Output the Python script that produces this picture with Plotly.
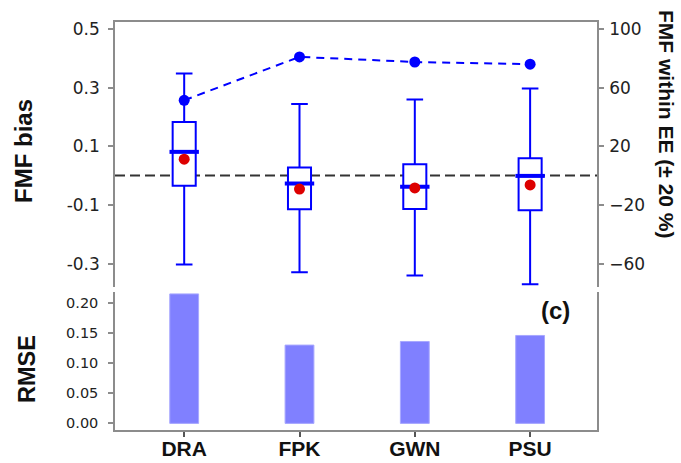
import plotly.graph_objects as go

# ---- data ----
stations = ["DRA", "FPK", "GWN", "PSU"]
upper_whisker = [0.348, 0.244, 0.260, 0.297]
q3 = [0.183, 0.028, 0.039, 0.059]
median = [0.081, -0.027, -0.038, -0.001]
q1 = [-0.035, -0.115, -0.114, -0.118]
lower_whisker = [-0.303, -0.330, -0.341, -0.371]
mean_bias = [0.056, -0.046, -0.042, -0.032]
within_ee = [51.4, 81.0, 77.5, 76.0]
rmse = [0.215, 0.130, 0.136, 0.146]

left_ticks = [-0.3, -0.1, 0.1, 0.3, 0.5]
right_ticks = [-60, -20, 20, 60, 100]
rmse_ticks = [0.00, 0.05, 0.10, 0.15, 0.20]

FONT = "Arial, Liberation Sans, sans-serif"
TICKFONT = "DejaVu Sans, Arial, sans-serif"
BLUE = "#0000ff"
RED = "#dd0000"
AXIS = "#8c8c8c"
TXT = "#222222"

fig = go.Figure()

fig.add_trace(go.Box(
    x=stations, q1=q1, median=median, q3=q3,
    lowerfence=lower_whisker, upperfence=upper_whisker,
    boxpoints=False, width=0.2, whiskerwidth=0.72,
    line=dict(color=BLUE, width=2), fillcolor="white",
    xaxis="x", yaxis="y", showlegend=False, hoverinfo="skip",
))
# thicker median line
fig.add_trace(go.Scatter(
    x=stations, y=median, mode="markers",
    marker=dict(symbol="line-ew", size=21, line=dict(color=BLUE, width=4)),
    xaxis="x", yaxis="y", showlegend=False, hoverinfo="skip",
))
fig.add_trace(go.Scatter(
    x=stations, y=mean_bias, mode="markers",
    marker=dict(color=RED, size=11),
    xaxis="x", yaxis="y", showlegend=False,
))
fig.add_trace(go.Scatter(
    x=stations, y=within_ee, mode="lines+markers",
    line=dict(color=BLUE, width=2, dash="8px,6px"),
    marker=dict(color=BLUE, size=11),
    xaxis="x", yaxis="y3", showlegend=False,
))
fig.add_trace(go.Bar(
    x=stations, y=rmse, width=0.25,
    marker=dict(color="#8080ff", line=dict(color="#a8a8ff", width=1)),
    xaxis="x2", yaxis="y2", showlegend=False,
))

xr = [-0.6, 3.58]
top_dom = [0.3505, 1.0]
bot_dom = [0.0, 0.338]

fig.update_layout(
    width=681, height=463,
    margin=dict(l=115, r=84, t=22, b=33, autoexpand=False),
    paper_bgcolor="white", plot_bgcolor="white",
    font=dict(family=FONT, color=TXT),
    xaxis=dict(domain=[0, 1], anchor="y", side="top", range=xr,
               categoryorder="array", categoryarray=stations,
               showline=True, linecolor=AXIS, linewidth=1.5,
               ticks="", showticklabels=False, showgrid=False, zeroline=False,
               automargin=False),
    yaxis=dict(domain=top_dom, anchor="x", range=[-0.38, 0.524],
               tickvals=left_ticks, ticktext=[f"{v:g}" for v in left_ticks],
               showline=True, linecolor=AXIS, linewidth=1.5,
               ticks="outside", ticklen=5, tickcolor=AXIS, tickwidth=1.5,
               tickfont=dict(size=17, color=TXT, family=TICKFONT),
               ticklabelstandoff=5,
               showgrid=False, zeroline=False, automargin=False),
    yaxis3=dict(overlaying="y", side="right", anchor="x", range=[-76, 104.8],
                tickvals=right_ticks,
                showline=True, linecolor=AXIS, linewidth=1.5,
                ticks="outside", ticklen=5, tickcolor=AXIS, tickwidth=1.5,
                tickfont=dict(size=17, color=TXT, family=TICKFONT),
                ticklabelstandoff=2,
                showgrid=False, zeroline=False, automargin=False),
    xaxis2=dict(domain=[0, 1], anchor="y2", range=xr,
                categoryorder="array", categoryarray=stations,
                tickvals=stations, ticktext=[f"<b>{s}</b>" for s in stations],
                showline=True, linecolor=AXIS, linewidth=1.5,
                ticks="outside", ticklen=5, tickcolor="#555555", tickwidth=1.5,
                tickfont=dict(size=21, color="#111111", family=FONT),
                ticklabelstandoff=-6,
                showgrid=False, zeroline=False, automargin=False),
    yaxis2=dict(domain=bot_dom, anchor="x2", range=[-0.011, 0.218],
                tickvals=rmse_ticks, tickformat=".2f",
                showline=True, mirror=True, linecolor=AXIS, linewidth=1.5,
                ticks="outside", ticklen=5, tickcolor=AXIS, tickwidth=1.5,
                tickfont=dict(size=14.5, color=TXT, family=TICKFONT),
                ticklabelstandoff=7,
                showgrid=False, zeroline=False, automargin=False),
)

# zero reference line
fig.add_shape(type="line", xref="x domain", yref="y", x0=0, x1=1, y0=0, y1=0,
              line=dict(color="#333333", width=2, dash="10px,5px"), layer="below")

# titles
fig.add_annotation(text="<b>FMF bias</b>", xref="paper", yref="paper",
                   x=0, y=(430 - 151) / 408, xshift=-92, textangle=-90, showarrow=False,
                   font=dict(size=24, color="#111111"), xanchor="center", yanchor="middle")
fig.add_annotation(text="<b>RMSE</b>", xref="paper", yref="paper",
                   x=0, y=(430 - 369) / 408, xshift=-88, textangle=-90, showarrow=False,
                   font=dict(size=23.5, color="#111111"), xanchor="center", yanchor="middle")
fig.add_annotation(text="<b>FMF within EE (± 20 %)</b>", xref="paper", yref="paper",
                   x=1, y=(430 - 124) / 408, xshift=70, textangle=90, showarrow=False,
                   font=dict(size=21, color="#111111"), xanchor="center", yanchor="middle")
fig.add_annotation(text="<b>(c)</b>", xref="paper", yref="paper",
                   x=1, y=(430 - 310) / 408, xshift=555 - 597, showarrow=False,
                   font=dict(size=24, color="#111111"), xanchor="center", yanchor="middle")

fig.write_html("out.html")
